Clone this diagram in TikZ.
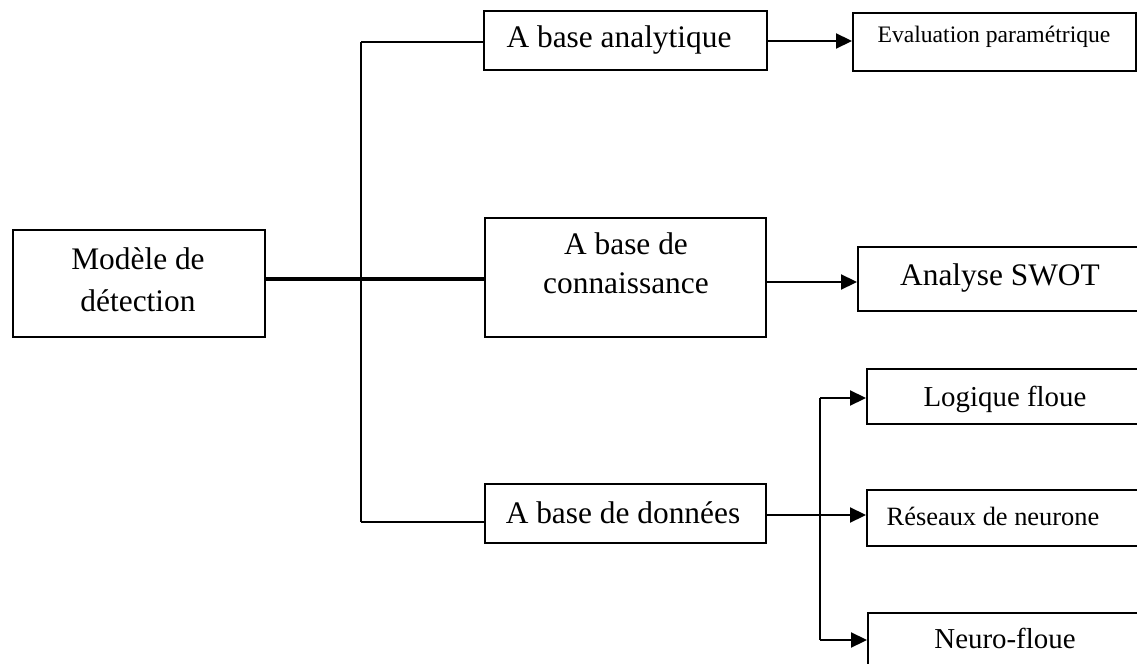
\documentclass[tikz,border=0pt]{standalone}
\usepackage{fontspec}
\setmainfont{Liberation Serif}
\usetikzlibrary{arrows.meta}
\begin{document}
\begin{tikzpicture}[x=1bp,y=-1bp,
  box/.style={draw, line width=2bp, inner sep=0pt, anchor=north west},
  lbl/.style={anchor=base, inner sep=0pt, font=\fontsize{31.5}{36}\selectfont},
  lblsmall/.style={lbl, font=\fontsize{23.7}{28}\selectfont},
  lblmid/.style={lbl, font=\fontsize{26.5}{30}\selectfont},
  lblfuzzy/.style={lbl, font=\fontsize{29}{34}\selectfont},
  wire/.style={line width=1.8bp},
  trunk/.style={line width=4bp},
  arr/.style={line width=2.2bp, -{Triangle[length=16bp,width=15bp]}}
]
\clip (0,0) rectangle (1137,664);

% boxes
\node[box, minimum width=252bp, minimum height=107bp] (mod)   at (12,229)  {};
\node[box, minimum width=283bp, minimum height=59bp]  (ana)   at (483,10)  {};
\node[box, minimum width=281bp, minimum height=119bp] (conn)  at (484,217) {};
\node[box, minimum width=281bp, minimum height=59bp]  (don)   at (484,483) {};
\node[box, minimum width=283bp, minimum height=58bp]  (eval)  at (852,12)  {};
\node[box, minimum width=320bp, minimum height=64bp]  (swot)  at (857,246) {};
\node[box, minimum width=300bp, minimum height=55bp]  (logi)  at (866,368) {};
\node[box, minimum width=300bp, minimum height=56bp]  (res)   at (866,489) {};
\node[box, minimum width=300bp, minimum height=80bp]  (neuro) at (867,612) {};

% labels
\node[lbl] (modA)  at (138,269) {Modèle de};
\node[lbl] (modB)  at (138,311) {détection};
\node[lbl] (anaT)  at (619,48)  {A base analytique};
\node[lbl] (connA) at (626,254) {A base de};
\node[lbl] (connB) at (626,293) {connaissance};
\node[lbl] (donT)  at (623,523) {A base de données};
\node[lblsmall] (evalT) at (994,43) {Evaluation paramétrique};
\node[lbl] (swotT) at (1000,285) {Analyse SWOT};
\node[lblfuzzy] (logiT) at (1005,406) {Logique floue};
\node[lblmid] (resT) at (993,525) {Réseaux de neurone};
\node[lblfuzzy] (neuroT) at (1005,648) {Neuro-floue};

% junction points
\coordinate (jt) at (361,42);
\coordinate (jm) at (361,279);
\coordinate (jb) at (361,522);
\coordinate (ya) at (0,41);
\coordinate (ys) at (0,282);
\coordinate (yd) at (0,515);
\coordinate (bt) at (820,398);
\coordinate (bb) at (820,640);

% main tree
\draw[wire] (jt) -- (jb);
\draw[wire] (jt) -- (jt -| ana.west);
\draw[wire] (jb) -- (jb -| don.west);
\draw[trunk] (jm -| mod.east) -- (jm -| conn.west);

% leaves
\draw[arr] (ya -| ana.east) -- (ya -| eval.west);
\draw[arr] (ys -| conn.east) -- (ys -| swot.west);
\draw[arr] (yd -| don.east) -- (yd -| res.west);
\draw[wire] (bt) -- (bb);
\draw[arr] (bt) -- (bt -| logi.west);
\draw[arr] (bb) -- (bb -| neuro.west);
\end{tikzpicture}
\end{document}
